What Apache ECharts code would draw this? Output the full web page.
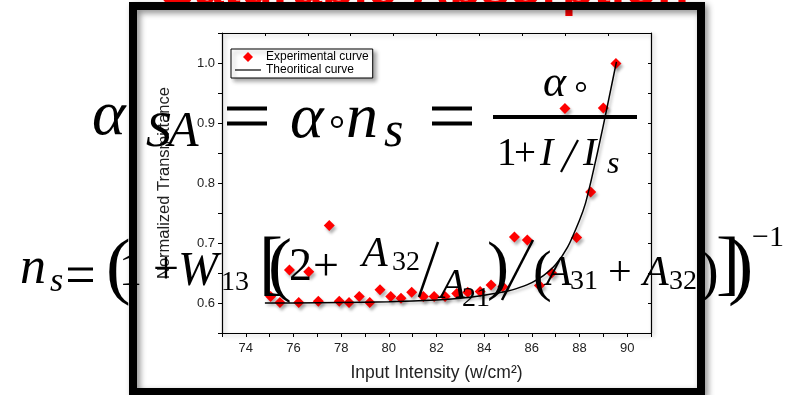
<!DOCTYPE html>
<html>
<head>
<meta charset="utf-8">
<script src="https://cdn.jsdelivr.net/npm/echarts@6/dist/echarts.min.js"></script>
<style>
  html, body { margin: 0; padding: 0; background: #fff; }
  #main { width: 800px; height: 395px; }
</style>
</head>
<body>
<div id="main"></div>
<script>
(function () {
    'use strict';

    // measured points (Input Intensity, Normalized Transmittance)
    var expX = [75.04, 75.43, 75.83, 76.22, 76.64, 77.04, 77.50, 77.92, 78.33, 78.76, 79.20, 79.63, 80.08, 80.51, 80.96, 81.45,
                81.90, 82.36, 82.85, 83.31, 83.83, 84.29, 84.78, 85.27, 85.81, 86.32, 86.83, 87.39, 87.88, 88.47, 89.00, 89.53];
    var expY = [0.611, 0.601, 0.655, 0.601, 0.652, 0.603, 0.729, 0.603, 0.601, 0.611, 0.601, 0.622, 0.611, 0.608, 0.618, 0.611,
                0.611, 0.611, 0.616, 0.618, 0.619, 0.630, 0.627, 0.710, 0.705, 0.629, 0.650, 0.924, 0.709, 0.785, 0.925, 0.999];

    // fitted curve
    var curveX = [74.8, 76, 78, 80, 82, 83, 84, 85, 85.5, 86, 86.5, 87, 87.5, 88, 88.25, 88.5, 88.75, 89, 89.25, 89.55];
    var curveY = [0.600, 0.600, 0.601, 0.602, 0.605, 0.608, 0.613, 0.620, 0.626, 0.634, 0.646, 0.664, 0.693, 0.738, 0.766,
                  0.806, 0.850, 0.896, 0.944, 1.002];

    // tick labels
    var xLabels = [74, 76, 78, 80, 82, 84, 86, 88, 90];
    var yLabels = [0.6, 0.7, 0.8, 0.9, 1.0];

    var serif = '"Liberation Serif", "DejaVu Serif", serif';
    var sans = '"Liberation Sans", Arial, sans-serif';

    function zip(a, b) {
        return a.map(function (v, i) { return [v, b[i]]; });
    }

    // text placed by its baseline
    function t(str, x, base, size, italic) {
        return {
            type: 'text', z: 3, x: x, y: base - 0.31 * size,
            style: {
                text: str, fill: '#000', verticalAlign: 'middle', align: 'left',
                font: (italic ? 'italic ' : '') + size + 'px ' + serif
            }
        };
    }
    function bar(x, y, w, h) {
        return { type: 'rect', z: 3, shape: { x: x, y: y, width: w, height: h }, style: { fill: '#000' } };
    }
    function slash(x1, y1, x2, y2, w) {
        return { type: 'line', z: 3, shape: { x1: x1, y1: y1, x2: x2, y2: y2 }, style: { stroke: '#000', lineWidth: w } };
    }
    function ring(cx, cy, r, w) {
        return { type: 'circle', z: 3, shape: { cx: cx, cy: cy, r: r }, style: { fill: 'none', stroke: '#000', lineWidth: w } };
    }

    var formula = [
        // alpha_SA = alpha0 n_s = alpha0 / (1 + I/I_s)
        t('α', 92, 137, 64, true),
        t('S', 146, 148, 50, true),
        t('A', 168, 148, 50, true),
        bar(227, 106.5, 40, 4), bar(227, 121.5, 40, 4),
        t('α', 290, 140, 64, true),
        ring(337, 122, 5, 2.2),
        t('n', 346, 140, 64, true),
        t('s', 384, 148, 50, true),
        bar(432, 106.5, 40, 4), bar(432, 121.5, 40, 4),
        t('α', 543, 98, 44, true),
        ring(581, 87, 4.2, 1.8),
        bar(493, 115, 144, 4),
        t('1', 497, 167, 39, false),
        t('+', 514, 167, 39, false),
        t('I', 540, 167, 40, true),
        slash(578, 140, 561, 172, 2.2),
        t('I', 583, 167, 40, true),
        t('s', 607, 175, 32, true),

        // n_s = (1 + W13 [(2 + A32/A21)/(A31 + A32)])^-1
        t('n', 20, 285, 52, true),
        t('s', 50, 293, 34, true),
        bar(68, 267.5, 25, 3), bar(68, 279, 25, 3),
        t('(', 106, 294, 74, false),
        t('1', 119, 287, 46, false),
        t('+', 153, 285, 46, false),
        t('W', 178, 287, 48, true),
        t('13', 221, 291, 28, false),
        t('[', 259, 289, 72, false),
        t('(', 268, 291, 72, false),
        t('2', 289, 282, 46, false),
        t('+', 313, 282, 46, false),
        t('A', 362, 268, 42, true),
        t('32', 392, 271, 28, false),
        slash(438, 242, 419, 297, 2.5),
        t('A', 440, 300, 42, true),
        t('21', 462, 307, 28, false),
        t(')', 487, 290, 66, false),
        slash(533, 240, 502, 300, 2.5),
        t('(', 533, 293, 56, false),
        t('A', 546, 287, 42, true),
        t('31', 570, 290, 28, false),
        t('+', 608, 287, 42, false),
        t('A', 643, 287, 42, true),
        t('32', 669, 290, 28, false),
        t(')', 700, 293, 56, false),
        t(']', 716, 289, 72, false),
        t(')', 728, 294, 76, false),
        t('−1', 752, 247, 30, false)
    ];

    var decor = [
        {
            type: 'text', z: 9, x: 160, y: 7 - 0.31 * 52,
            style: { text: 'Saturable Absorption', fill: '#ff0000', verticalAlign: 'middle', font: 'bold 52px ' + sans }
        },
        {
            type: 'rect', z: 10, shape: { x: 133, y: 6, width: 568, height: 386 },
            style: {
                fill: 'none', stroke: '#000', lineWidth: 8,
                shadowBlur: 6, shadowOffsetX: 3, shadowOffsetY: 3, shadowColor: 'rgba(0,0,0,0.45)'
            }
        }
    ];

    var axisShadow = { color: '#000', width: 1.2, shadowBlur: 4, shadowOffsetX: 2, shadowOffsetY: 2, shadowColor: 'rgba(0,0,0,0.3)' };

    var myChart = echarts.init(document.getElementById('main'));

    var option = {
        animation: false,
        backgroundColor: '#fff',
        grid: { left: 222, right: 149, top: 33, bottom: 62 },
        legend: {
            left: 231, top: 49,
            orient: 'vertical',
            backgroundColor: '#fff',
            borderColor: '#000', borderWidth: 1, borderRadius: 0,
            padding: [2, 4, 2, 4],
            itemGap: 1, itemWidth: 26, itemHeight: 10,
            symbolKeepAspect: true,
            shadowBlur: 4, shadowOffsetX: 3, shadowOffsetY: 3, shadowColor: 'rgba(0,0,0,0.35)',
            textStyle: { fontSize: 12, color: '#000', fontFamily: sans },
            data: [
                { name: 'Experimental curve', icon: 'path://M5,0 L10,5 L5,10 L0,5 Z' },
                { name: 'Theoritical curve', icon: 'path://M0,0 L26,0 L26,1.2 L0,1.2 Z' }
            ]
        },
        xAxis: [{
            type: 'value', min: 73, max: 91, interval: 1,
            name: 'Input Intensity (w/cm²)', nameLocation: 'middle', nameGap: 31,
            nameTextStyle: { fontSize: 17.5, color: '#222', fontFamily: sans },
            axisLine: { lineStyle: axisShadow },
            axisTick: { inside: false, length: 4, lineStyle: { color: '#000' } },
            axisLabel: {
                fontSize: 13, color: '#222', fontFamily: sans, margin: 9,
                formatter: function (v) { return xLabels.indexOf(Math.round(v)) >= 0 && Math.abs(v - Math.round(v)) < 1e-6 ? String(Math.round(v)) : ''; }
            },
            splitLine: { show: false }
        }, {
            type: 'value', position: 'top', min: 0, max: 10, interval: 1,
            axisLine: { lineStyle: axisShadow },
            axisTick: { inside: true, length: 3, lineStyle: { color: '#000' } },
            axisLabel: { show: false },
            splitLine: { show: false }
        }],
        yAxis: [{
            type: 'value', min: 0.55, max: 1.05, interval: 0.05,
            name: 'Normalized Transmittance', nameLocation: 'middle', nameGap: 49,
            nameTextStyle: { fontSize: 16.5, color: '#222', fontFamily: sans },
            axisLine: { lineStyle: axisShadow },
            axisTick: { inside: false, length: 4, lineStyle: { color: '#000' } },
            axisLabel: {
                fontSize: 13, color: '#222', fontFamily: sans, margin: 7,
                formatter: function (v) {
                    var hit = yLabels.some(function (l) { return Math.abs(l - v) < 1e-6; });
                    return hit ? v.toFixed(1) : '';
                }
            },
            splitLine: { show: false }
        }, {
            type: 'value', position: 'right', min: 0.55, max: 1.05, interval: 0.05,
            axisLine: { lineStyle: axisShadow },
            axisTick: { inside: true, length: 3, lineStyle: { color: '#000' } },
            axisLabel: { show: false },
            splitLine: { show: false }
        }],
        series: [{
            name: 'Theoritical curve',
            type: 'line',
            symbol: 'none',
            smooth: 0.2,
            lineStyle: { color: '#000', width: 1.5, shadowBlur: 3, shadowOffsetX: 2, shadowOffsetY: 2, shadowColor: 'rgba(0,0,0,0.3)' },
            itemStyle: { color: '#000' },
            data: zip(curveX, curveY)
        }, {
            name: 'Experimental curve',
            type: 'scatter',
            symbol: 'diamond',
            symbolSize: 11,
            itemStyle: { color: '#ff0000', opacity: 1, shadowBlur: 3, shadowOffsetX: 2, shadowOffsetY: 3, shadowColor: 'rgba(0,0,0,0.3)' },
            data: zip(expX, expY)
        }],
        graphic: { elements: formula.concat(decor) }
    };

    myChart.setOption(option);
    window.addEventListener('resize', function () {
        myChart.resize();
    });
})();
</script>
</body>
</html>
